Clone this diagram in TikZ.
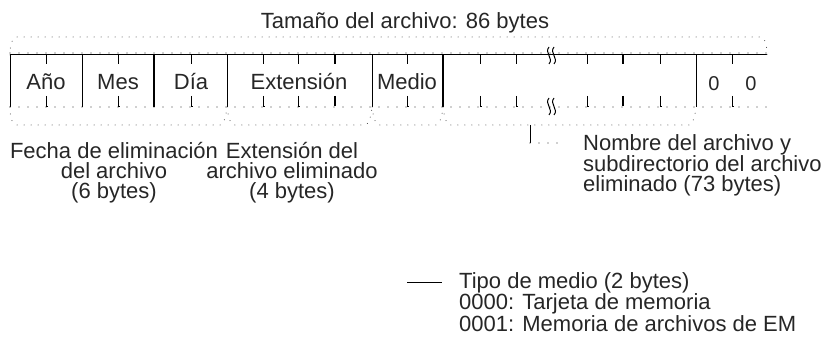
\documentclass[tikz,border=0pt]{standalone}
\usepackage{fontspec}
\setmainfont{Liberation Sans}
\begin{document}
\begin{tikzpicture}[x=1pt,y=-1pt,
  lbl/.style={font=\fontsize{22pt}{20pt}\selectfont, inner sep=0pt, text=black!85},
  dotl/.style={line width=1.1pt, line cap=round, dash pattern=on 0pt off 9pt, black!80},
  sep/.style={line width=0.9pt},
  thk/.style={line width=2.4pt},
  tick/.style={line width=0.9pt},
  thktick/.style={line width=2pt},
  brc/.style={line width=1pt, line cap=round, dash pattern=on 0pt off 7pt, black!80}
]
\useasboundingbox (0,0) rectangle (829,339);

% top solid line and dotted overlay
\coordinate (TL) at (10,55);
\coordinate (TR) at (767,55);
\coordinate (BL) at (10,107);
\coordinate (BR) at (767,107);
\draw[line width=1pt] (TL) -- (TR);
\draw[dotl] (10,53) -- (767,53);
\draw[dotl] (BL) -- (BR);

% separators
\foreach \x in {10,82,227,372,696} \draw[sep] (\x,55) -- (\x,107);
\foreach \x in {154,443} \draw[thk] (\x,55) -- (\x,107);

% ticks
\foreach \x in {46,118,191,263,298,407,480,516,587,660,732} {
  \draw[tick] (\x,55) -- (\x,64);
  \draw[tick] (\x,96) -- (\x,106) -- (\x+2,106);
}
\foreach \x in {335,623} {
  \draw[thktick] (\x,55) -- (\x,64);
  \draw[thktick] (\x,96) -- (\x,106);
}

% break marks
\foreach \x in {549,554} {
  \draw[line width=1pt] (\x,47) .. controls (\x-5,53) and (\x+5,58) .. (\x,64);
  \draw[line width=1pt] (\x,98) .. controls (\x-5,104) and (\x+5,109) .. (\x,115);
}

% top brace
\draw[brc] (10,55) .. controls (10,45) and (12,37) .. (17,37) -- (760,37) .. controls (765,37) and (767,45) .. (767,55);

% bottom braces
\draw[brc] (10,107) .. controls (10,118) and (12,125) .. (17,125) -- (220,125) .. controls (224,125) and (226,115) .. (227,107);
\foreach \a/\b in {227/372,372/443,443/696} {
  \draw[brc] (\a,107) .. controls (\a+1,115) and (\a+3,125) .. (\a+7,125) -- (\b-7,125) .. controls (\b-3,125) and (\b-1,115) .. (\b,107);
}

% cell labels
\node[lbl, anchor=base] (ano) at (46,90) {Año};
\node[lbl, anchor=base] (mes) at (118,90) {Mes};
\node[lbl, anchor=base] (dia) at (191,90) {Día};
\node[lbl, anchor=base] (ext) at (299,90) {Extensión};
\node[lbl, anchor=base] (med) at (407,90) {Medio};
\node[lbl, anchor=base, font=\fontsize{20pt}{20pt}\selectfont] (z1) at (714,91) {0};
\node[lbl, anchor=base, font=\fontsize{20pt}{20pt}\selectfont] (z2) at (751,91) {0};

% title
\node[lbl, anchor=north] (title) at (405,12) {Tamaño del archivo: 86 bytes};

% bottom labels
\node[lbl, anchor=north, align=center] (fecha) at (114,142) {Fecha de eliminación\\del archivo\\(6 bytes)};
\node[lbl, anchor=north, align=center] (extl) at (292,142) {Extensión del\\archivo eliminado\\(4 bytes)};
\node[lbl, anchor=north west, align=left] (nombre) at (583,134) {Nombre del archivo y\\subdirectorio del archivo\\eliminado (73 bytes)};

% connector to Nombre
\coordinate (nb) at (530,125);
\coordinate (nc) at (530,143);
\coordinate (nd) at (562,143);
\draw[line width=0.9pt] (nb) -- (nc);
\draw[dotl] (nc) -- (nd);

% Tipo de medio
\node[lbl, anchor=north west, align=left, font=\fontsize{22pt}{19pt}\selectfont] (tipo) at (459,272) {Tipo de medio (2 bytes)\\0000: Tarjeta de memoria\\0001: Memoria de archivos de EM};
\coordinate (tl) at (407,282);
\coordinate (tr) at (442,282);
\draw[line width=0.9pt] (tl) -- (tr);
\end{tikzpicture}
\end{document}
